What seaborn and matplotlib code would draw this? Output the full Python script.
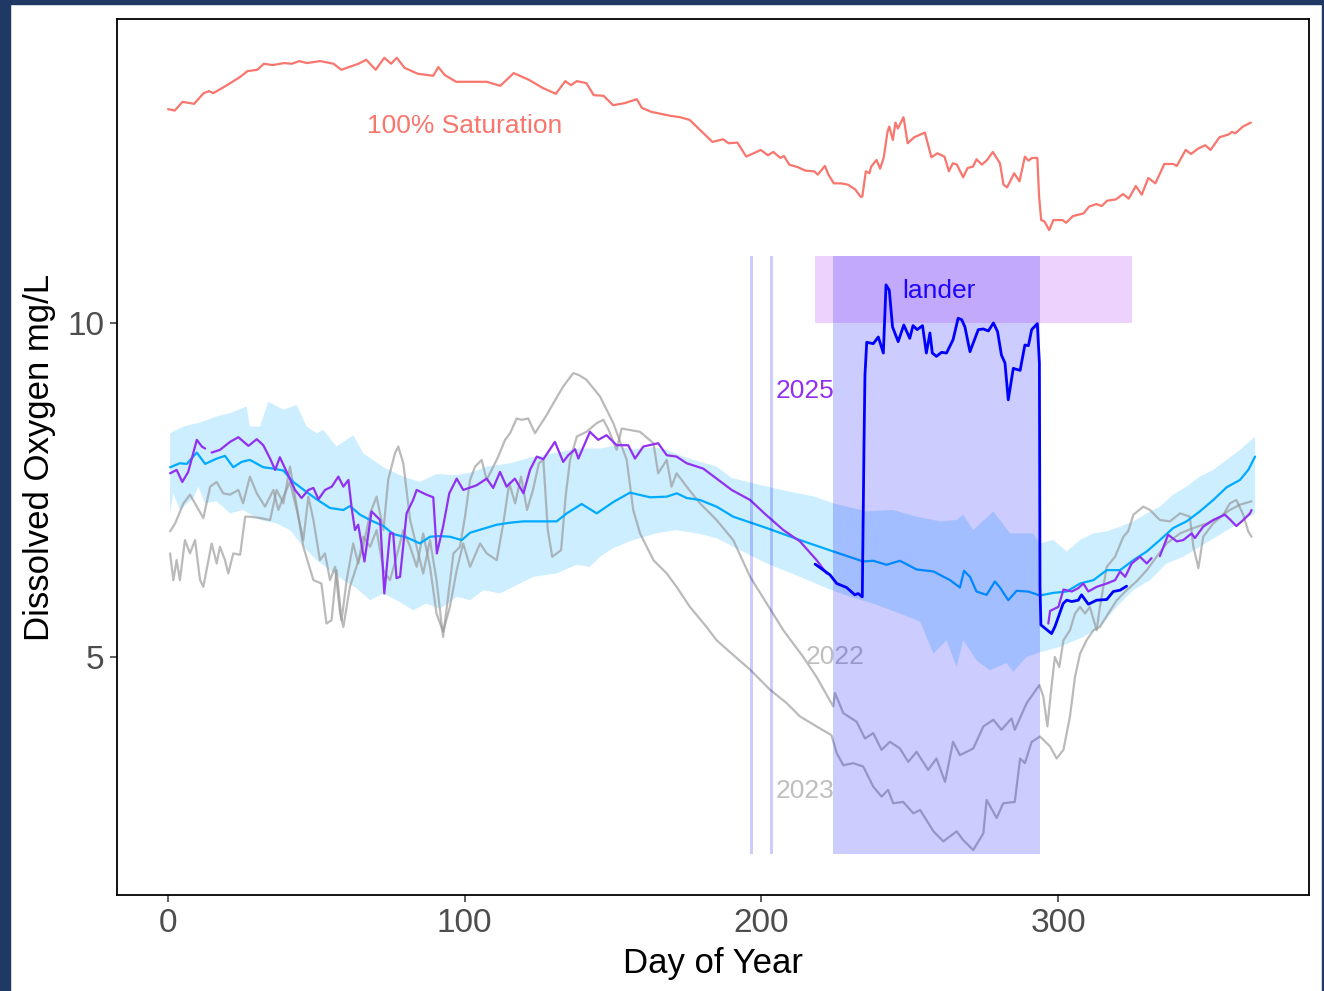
import numpy as np
import pandas as pd
import matplotlib
matplotlib.use("Agg")
import matplotlib.pyplot as plt
import seaborn as sns
from matplotlib.patches import Rectangle

# ---- data ----
# 100% saturation curve
sat_day = [0, 2.3, 4.9, 8.8, 12.0, 13.9, 15.2, 18.4, 21.0, 24.2,
           26.8, 30.1, 32.3, 35.2, 39.1, 41.7, 44.3, 46.8, 51.3, 55.8,
           58.4, 61.0, 64.2, 66.8, 70.0, 72.9, 75.2, 77.1, 79.7, 84.2,
           89.4, 91.1, 93.3, 97.1, 103.6, 107.4, 112, 116.5, 121.6, 126.2,
           130.7, 133.9, 135.8, 137.8, 141, 143.5, 146.8, 150, 153.9, 158,
           159.7, 162.9, 169.4, 172.6, 175.8, 179.3, 183.5, 187.1, 188.9, 191.9,
           194.9, 199.8, 202.2, 204, 206.4, 207.6, 209.4, 212.4, 214.8, 217.8,
           219, 221.4, 222.6, 224.4, 226.8, 229.2, 231.6, 233.4, 234, 235.2,
           236.4, 237, 238.8, 240, 241.2, 242.5, 243.1, 244.3, 245.2, 246,
           247.9, 249.3, 251.5, 255.1, 257.3, 259.3, 261.7, 263.2, 264.5, 265.9,
           268, 269.5, 271.3, 272.5, 274.3, 276.1, 278, 280.4, 281.6, 282.8,
           285.2, 287, 288.8, 290, 291.2, 293, 293.6, 294.3, 295.4, 297,
           298.4, 301.5, 302.7, 305, 308.6, 310.4, 312.9, 314.7, 316.5, 319.5,
           321.9, 323.8, 326.2, 328.2, 330.4, 332.8, 335.8, 338.8, 340, 343,
           344.8, 347.2, 349.6, 351.4, 354.4, 357.4, 358.6, 359.8, 362.3, 365]
sat_do = [13.20, 13.18, 13.31, 13.28, 13.44, 13.47, 13.44, 13.52, 13.59, 13.68,
          13.77, 13.79, 13.88, 13.86, 13.89, 13.88, 13.92, 13.89, 13.92, 13.88,
          13.79, 13.83, 13.88, 13.94, 13.79, 13.97, 13.88, 13.97, 13.82, 13.73,
          13.70, 13.83, 13.71, 13.61, 13.61, 13.61, 13.55, 13.74, 13.64, 13.52,
          13.43, 13.62, 13.56, 13.62, 13.59, 13.41, 13.40, 13.26, 13.29, 13.35,
          13.22, 13.16, 13.10, 13.08, 13.04, 12.89, 12.71, 12.75, 12.69, 12.70,
          12.49, 12.59, 12.51, 12.56, 12.47, 12.50, 12.37, 12.33, 12.28, 12.27,
          12.22, 12.35, 12.22, 12.09, 12.09, 12.07, 12.00, 11.89, 11.89, 12.27,
          12.24, 12.34, 12.44, 12.31, 12.47, 12.86, 12.94, 12.74, 13.00, 12.91,
          13.08, 12.69, 12.78, 12.85, 12.48, 12.54, 12.49, 12.27, 12.39, 12.37,
          12.18, 12.32, 12.34, 12.45, 12.37, 12.44, 12.56, 12.39, 12.07, 12.03,
          12.24, 12.12, 12.49, 12.43, 12.47, 12.47, 11.89, 11.54, 11.52, 11.39,
          11.54, 11.54, 11.50, 11.60, 11.64, 11.74, 11.78, 11.75, 11.83, 11.85,
          11.93, 11.86, 12.05, 11.92, 12.17, 12.09, 12.38, 12.38, 12.35, 12.59,
          12.53, 12.61, 12.66, 12.59, 12.78, 12.82, 12.86, 12.84, 12.94, 13.00]

# climatology mean
clim_day = [0.7, 4, 6.3, 9.7, 12.5, 16.4, 19.2, 22, 24.8, 27.6,
            32.1, 35.5, 38.9, 42.2, 46.7, 50.1, 54.6, 59.1, 61.3, 64.7,
            68.1, 72.6, 75.9, 80.4, 84.9, 88.3, 91.7, 95, 99, 101.8,
            106.3, 110.8, 115.3, 119.8, 125.4, 131, 134.4, 139.4, 144.5, 150.1,
            155.7, 162.5, 168.1, 171.5, 174.8, 179.3, 184.9, 190.5, 201.8, 213,
            224.2, 234.3, 237.7, 242.2, 246.7, 252.3, 258, 263.6, 266.9, 268.3,
            270.3, 272.5, 275.9, 278.7, 280.4, 283.2, 286, 289.9, 293.9, 298.4,
            302.9, 307.4, 311.9, 316.4, 320.9, 325.4, 329.9, 334.3, 338.8, 343.3,
            347.8, 352.3, 356.8, 361.3, 364.1, 366.4]
clim_do = [7.84, 7.90, 7.89, 8.06, 7.89, 7.97, 8.01, 7.84, 7.92, 7.95,
           7.84, 7.82, 7.79, 7.62, 7.47, 7.36, 7.23, 7.20, 7.26, 7.13,
           7.05, 6.96, 6.84, 6.79, 6.70, 6.80, 6.81, 6.80, 6.75, 6.86,
           6.92, 6.98, 7.01, 7.03, 7.03, 7.03, 7.15, 7.29, 7.15, 7.32,
           7.46, 7.39, 7.40, 7.45, 7.38, 7.35, 7.25, 7.10, 6.93, 6.75,
           6.58, 6.43, 6.44, 6.38, 6.44, 6.31, 6.28, 6.15, 6.04, 6.29,
           6.20, 5.98, 5.93, 6.13, 6.04, 5.85, 5.99, 5.98, 5.92, 5.96,
           5.98, 6.10, 6.15, 6.30, 6.30, 6.45, 6.58, 6.75, 6.93, 7.03,
           7.18, 7.35, 7.54, 7.65, 7.80, 8.00]

# climatology band, upper and lower edges
band_hi_day = [0.7, 5.2, 10.8, 16.4, 20.9, 26.5, 27.6, 31, 33.8, 38.9,
               43.4, 46.7, 50.1, 52.3, 56.8, 62.4, 65.8, 72.6, 79.3, 84.9,
               90.6, 97.3, 102.9, 107.4, 115.3, 120.9, 126.5, 132.1, 138.9, 145.6,
               150.1, 156.8, 163.6, 168.1, 173.7, 179.3, 184.9, 190, 200, 210,
               218, 224.2, 235.4, 244.4, 252.3, 260.2, 265.8, 268, 271.4, 278.2,
               283.8, 291.6, 293.9, 298.4, 302.9, 307.4, 311.9, 316.4, 320.9, 325.4,
               329.9, 334.3, 338.8, 343.3, 347.8, 352.3, 356.8, 361.3, 366.4]
band_hi = [8.35, 8.45, 8.51, 8.60, 8.65, 8.75, 8.45, 8.45, 8.82, 8.70,
           8.77, 8.45, 8.35, 8.40, 8.15, 8.32, 8.05, 7.84, 7.70, 7.62,
           7.74, 7.72, 7.77, 7.85, 7.90, 7.97, 8.02, 8.07, 8.12, 8.12,
           8.16, 8.11, 8.14, 8.10, 8.00, 7.92, 7.85, 7.68, 7.57, 7.47,
           7.40, 7.30, 7.18, 7.20, 7.10, 7.03, 7.05, 7.13, 6.90, 7.18,
           6.85, 6.85, 6.70, 6.75, 6.58, 6.75, 6.85, 6.88, 6.95, 7.03,
           7.15, 7.25, 7.43, 7.55, 7.70, 7.80, 7.95, 8.10, 8.30]
band_lo_day = [0.7, 1.8, 4, 8.5, 10.2, 12.5, 16.4, 20.9, 25.3, 31,
               36.6, 41.1, 45.6, 50.1, 54.6, 59.1, 63.5, 68.1, 72.6, 77,
               82.6, 87.1, 91.7, 97.3, 101.8, 106.3, 111.9, 116.4, 123.1, 131,
               137.7, 142.2, 145.6, 150.1, 156.8, 164.6, 171.4, 179.3, 184.9, 190.5,
               201.8, 213, 222, 229.9, 237.7, 246.7, 253.5, 258, 262.4, 265.8,
               268, 272.5, 277, 282.6, 284.9, 289.4, 293.9, 300.6, 308.5, 314.1,
               319.8, 325.4, 331, 336.6, 342.2, 347.8, 353.4, 359, 366.4]
band_lo = [7.15, 7.45, 7.20, 7.38, 7.55, 7.30, 7.33, 7.15, 7.20, 7.05,
           7.00, 6.90, 6.65, 6.45, 6.30, 6.15, 6.03, 5.85, 5.95, 5.85,
           5.70, 5.80, 5.72, 5.90, 5.85, 6.00, 5.95, 6.05, 6.20, 6.25,
           6.38, 6.35, 6.50, 6.63, 6.75, 6.85, 6.90, 6.84, 6.78, 6.65,
           6.40, 6.20, 6.03, 5.90, 5.80, 5.65, 5.53, 5.05, 5.25, 4.85,
           5.25, 4.95, 4.80, 4.91, 4.78, 5.00, 5.07, 5.15, 5.30, 5.45,
           5.75, 6.00, 6.15, 6.40, 6.50, 6.65, 6.80, 6.95, 7.15]

# 2025 (four pieces, gaps in the record)
y2025_day = [[0.7, 2.9, 4.8, 6.8, 9.7, 11.4, 12.5],
             [14.7, 17.5, 20.9, 23.7, 27.1, 29.9, 32.1, 34.4, 36.1, 37.7,
              40, 42.8, 45, 47.3, 49, 50.7, 52.9, 55.2, 57.4, 59.1,
              60.8, 61.9, 63, 64.1, 66.2, 68.6, 71.5, 72.9, 74.8, 75.9,
              77, 78.2, 80.4, 82.6, 83.8, 87.1, 89.4, 90.6, 92.7, 94.8,
              97.3, 99.5, 104, 107.4, 109.6, 111.9, 114.1, 116.9, 119.8, 122,
              124.3, 126.5, 130.4, 133.2, 134.9, 137.2, 138.3, 142.2, 145, 147.8,
              151.2, 155.1, 157.4, 160.2, 165.2, 168.1, 171.4, 174.8, 180.4, 184.9,
              190, 196.2, 201, 207.4, 213, 218.6, 222],
             [296.7, 297.3, 300.1, 301.8, 304.6, 306.8, 308.5, 310.2, 313, 316.4,
              319.2, 320.9, 322.6, 324.8, 327.6, 329.9, 331.5],
             [334.3, 337.1, 340, 342.2, 345, 346.1, 348.9, 352.3, 356.2, 357.9,
              360.1, 362.4, 364.7, 365.2]]
y2025_do = [[7.75, 7.80, 7.62, 7.77, 8.25, 8.15, 8.12],
            [8.06, 8.10, 8.22, 8.29, 8.16, 8.26, 8.17, 7.97, 7.80, 7.99,
             7.77, 7.50, 7.38, 7.50, 7.53, 7.36, 7.50, 7.55, 7.70, 7.55,
             7.65, 7.23, 6.90, 6.98, 6.43, 7.18, 7.05, 5.95, 6.85, 6.85,
             6.18, 6.20, 7.15, 7.35, 7.50, 7.43, 7.39, 6.55, 6.95, 7.45,
             7.67, 7.50, 7.57, 7.67, 7.53, 7.77, 7.55, 7.67, 7.45, 7.80,
             8.00, 7.96, 8.22, 7.92, 8.02, 8.11, 7.97, 8.37, 8.25, 8.32,
             8.17, 8.17, 7.97, 8.15, 8.20, 8.02, 8.00, 7.90, 7.82, 7.67,
             7.50, 7.35, 7.15, 6.90, 6.73, 6.45, 6.25],
            [5.50, 5.69, 5.75, 6.01, 5.98, 6.03, 6.10, 5.98, 6.05, 6.10,
             6.15, 6.28, 6.20, 6.40, 6.50, 6.40, 6.48],
            [6.51, 6.83, 6.73, 6.75, 6.85, 6.78, 6.95, 7.05, 7.13, 7.06,
             6.96, 7.05, 7.15, 7.20]]

# lander deployment
lander_day = [218.1, 220.9, 223.1, 225.4, 228.7, 231.5, 232.6, 234, 234.6, 234.9,
              235.5, 237.7, 239.4, 241.1, 242, 243.1, 244.2, 246.1, 248, 250,
              251.1, 252.5, 254.3, 255.6, 256.8, 257.6, 259, 260.7, 262.4, 264.6,
              266.3, 267.5, 268.6, 270.3, 273.1, 274.8, 276.5, 278.2, 279.6, 280.9,
              282.1, 283.2, 284.9, 287.2, 288.8, 290, 291.1, 293, 293.7, 293.9,
              294.2, 297.8, 298.9, 301.7, 302.9, 304.6, 306.8, 307.9, 310.2, 313,
              316.4, 318.6, 320.9, 323.1]
lander_do = [6.39, 6.30, 6.23, 6.10, 6.04, 5.93, 5.95, 5.90, 8.25, 9.22,
             9.71, 9.69, 9.79, 9.55, 10.57, 10.49, 9.94, 9.72, 9.97, 9.77,
             9.96, 9.90, 9.96, 9.55, 9.85, 9.55, 9.50, 9.56, 9.55, 9.75,
             10.07, 10.05, 9.94, 9.57, 9.90, 9.91, 9.88, 10.00, 9.87, 9.52,
             9.40, 8.85, 9.32, 9.29, 9.67, 9.66, 9.90, 9.99, 9.40, 6.05,
             5.48, 5.35, 5.45, 5.80, 5.85, 5.83, 5.85, 5.93, 5.79, 5.85,
             5.86, 5.98, 6.00, 6.06]

# earlier years (grey)
y2022_day = [0.7, 1.8, 2.9, 4, 5.7, 7.4, 9.1, 10.8, 11.9, 14.7,
             16.4, 17.5, 19.2, 20.3, 22, 24.3, 26, 27.6, 31, 34.4,
             36.6, 38.9, 41.1, 43.4, 45.6, 49, 51.7, 53.4, 55.1, 56.8,
             58.5, 60.2, 62.4, 64.1, 65.8, 68.1, 70.3, 72.6, 74.8, 77,
             79.3, 81.6, 83.8, 86, 88.3, 90.5, 92.7, 95, 97.3, 99.5,
             101.8, 105.2, 107.4, 110.8, 113, 115, 117, 119, 121, 123,
             125, 126.5, 128, 129.5, 131, 132.5, 134, 135.5, 137.8, 141,
             144.5, 146.7, 148.5, 151.2, 152.9, 159.1, 163.6, 165.2, 168.1, 169.7,
             171.4, 174.8, 179.3, 184.9, 190.5, 196.2, 201.8, 207.4, 214.1, 218.6,
             224.2, 224.8, 227.6, 232.1, 234.9, 237.7, 240.5, 243.3, 246.7, 249.5,
             252.3, 256.2, 259, 261.9, 264.6, 266.9, 271.4, 274.8, 278.2, 280.9,
             284.3, 285.4, 289.4, 293.7, 295, 296.4, 297.3, 298.9, 300.4, 301.8,
             304, 305.7, 307.4, 309.1, 310.7, 313, 314.1, 316.4, 319.2, 322,
             323.6, 325.4, 328.7, 331, 334.3, 337.7, 341.1, 344.4, 345.6, 347.3,
             348.9, 352.3, 355.7, 357.9, 360.1, 362.4, 364.1, 365.2]
y2022_do = [6.55, 6.15, 6.45, 6.15, 6.75, 6.55, 6.75, 6.15, 6.05, 6.70,
            6.40, 6.65, 6.45, 6.25, 6.55, 6.53, 7.10, 7.10, 7.08, 7.05,
            7.50, 7.30, 7.85, 7.25, 6.65, 6.15, 6.10, 5.50, 5.55, 6.30,
            5.55, 6.15, 6.70, 6.40, 6.80, 6.65, 6.90, 6.30, 6.15, 6.50,
            6.90, 6.65, 6.35, 6.85, 6.35, 5.65, 5.38, 5.75, 6.30, 6.70,
            6.35, 6.70, 6.55, 6.45, 7.00, 7.60, 7.30, 7.70, 7.20, 7.50,
            7.90, 7.95, 6.90, 6.50, 6.55, 6.60, 7.40, 7.95, 8.30, 8.37,
            8.50, 8.55, 8.40, 8.10, 8.42, 8.37, 8.20, 7.75, 7.95, 7.55,
            7.75, 7.55, 7.30, 7.05, 6.75, 6.20, 5.80, 5.40, 5.00, 4.70,
            4.26, 4.46, 4.16, 4.03, 3.78, 3.86, 3.61, 3.73, 3.63, 3.43,
            3.58, 3.31, 3.48, 3.13, 3.73, 3.53, 3.63, 3.96, 4.06, 3.91,
            4.08, 3.91, 4.31, 4.58, 4.41, 3.96, 4.36, 5.00, 4.85, 5.25,
            5.40, 5.65, 5.75, 5.65, 5.75, 5.40, 5.75, 6.35, 6.50, 6.80,
            6.88, 7.13, 7.25, 7.20, 7.05, 7.03, 7.15, 7.10, 6.65, 6.33,
            6.80, 7.00, 7.13, 7.30, 7.35, 7.13, 6.88, 6.80]

y2023_day = [0.7, 2.4, 5.2, 7.4, 9.7, 11.9, 14.2, 16.4, 18.6, 20.9,
             23.7, 25.3, 27.6, 29.9, 32.7, 35.5, 37.2, 38.9, 41.1, 43.4,
             45.6, 47.3, 49, 51.2, 52.9, 54.6, 56.3, 58, 59.1, 61.3,
             63.5, 65.8, 68.1, 70.3, 72.6, 74.2, 76.5, 77.6, 79.3, 81.6,
             83.8, 86, 88.3, 90.5, 92.7, 94.4, 96.2, 98.4, 100.1, 101.8,
             103.5, 105.7, 107.4, 109.1, 111.3, 113.6, 115.3, 117.5, 119.2, 121.4,
             123.7, 125.4, 127.6, 129.9, 133.2, 136.6, 138.5, 141, 145.6, 150.1,
             154.6, 156.8, 159.1, 163.6, 168.1, 171.4, 175.9, 181.5, 184.9, 190.5,
             196.2, 202.9, 208.5, 213, 218.6, 223.6, 225.4, 227.6, 231, 234.3,
             237.7, 240.5, 242.7, 244.4, 247.8, 251.2, 253.5, 258, 261.3, 265.8,
             268, 271.4, 274.8, 275.9, 279.3, 281.5, 285.4, 287.2, 288.8, 291.1,
             293.9, 297.3, 299.5, 301.8, 304, 305.7, 307.4, 309.6, 311.9, 314.1,
             316.9, 319.8, 323.1, 326.4, 329.9, 333.2, 336.6, 341.1, 345.6, 350.1,
             354.6, 357.9, 361.3, 365.2]
y2023_do = [6.88, 7.00, 7.30, 7.43, 7.25, 7.08, 7.55, 7.62, 7.45, 7.43,
            7.50, 7.30, 7.70, 7.45, 7.25, 7.50, 7.20, 7.40, 7.62, 7.20,
            6.75, 7.40, 7.05, 6.45, 6.55, 6.15, 6.35, 5.65, 5.45, 6.05,
            6.35, 6.65, 7.15, 7.40, 6.90, 7.65, 8.05, 8.15, 7.90, 7.05,
            6.65, 6.25, 6.75, 6.15, 5.30, 5.90, 6.55, 6.65, 7.10, 7.65,
            7.85, 7.95, 7.65, 7.80, 8.00, 8.25, 8.35, 8.57, 8.55, 8.57,
            8.35, 8.47, 8.62, 8.80, 9.05, 9.25, 9.22, 9.15, 8.90, 8.50,
            7.95, 7.20, 6.85, 6.45, 6.25, 6.05, 5.75, 5.45, 5.25, 5.03,
            4.81, 4.51, 4.31, 4.11, 3.96, 3.83, 3.56, 3.38, 3.41, 3.36,
            3.06, 2.91, 3.01, 2.81, 2.83, 2.66, 2.71, 2.39, 2.24, 2.39,
            2.26, 2.11, 2.36, 2.86, 2.59, 2.81, 2.83, 3.48, 3.41, 3.73,
            3.81, 3.66, 3.48, 3.61, 4.11, 4.70, 5.05, 5.25, 5.40, 5.45,
            5.65, 5.85, 6.00, 6.13, 6.30, 6.50, 6.70, 6.85, 6.93, 7.00,
            7.10, 7.20, 7.28, 7.33]

# shaded windows (day start, day end, DO low, DO high)
lander_window = (224, 294, 2.05, 11)
lander_tag = (218, 325, 10, 11)
thin_windows = [(196, 197), (203, 204)]

# ---- build frames ----
grey = pd.concat([pd.DataFrame({"day": y2022_day, "do": y2022_do, "year": "2022"}),
                  pd.DataFrame({"day": y2023_day, "do": y2023_do, "year": "2023"})])
y2025 = pd.concat([pd.DataFrame({"day": d, "do": v, "seg": i})
                   for i, (d, v) in enumerate(zip(y2025_day, y2025_do))])

sns.set_theme(style="white")
plt.rcParams["font.family"] = ["Liberation Sans", "DejaVu Sans"]

fig = plt.figure(figsize=(13.24, 9.91), dpi=100)
ax = fig.add_axes([117 / 1324, 96 / 991, (1308.5 - 117) / 1324, (895 - 19) / 991])

# navy frame of the screenshot
navy = "#1f3864"
for rect in ([0, 0, 10 / 1324, 1], [0, 1 - 4 / 991, 1, 4 / 991], [1322 / 1324, 0, 2 / 1324, 1]):
    fig.patches.append(Rectangle(rect[:2], rect[2], rect[3], transform=fig.transFigure,
                                 color=navy, zorder=10))

# climatology band
ax.fill(np.concatenate([band_hi_day, band_lo_day[::-1]]),
        np.concatenate([band_hi, band_lo[::-1]]),
        color="#00AAFF", alpha=0.2, lw=0, zorder=1)

sns.lineplot(data=grey, x="day", y="do", units="year", estimator=None, sort=False,
             color="#969696", alpha=0.65, lw=1.6, ax=ax, zorder=2)
sns.lineplot(x=clim_day, y=clim_do, color="#00AAFF", lw=1.6, ax=ax, zorder=3)
sns.lineplot(data=y2025, x="day", y="do", units="seg", estimator=None, sort=False,
             color="#9130F0", lw=1.6, ax=ax, zorder=4)
sns.lineplot(x=sat_day, y=sat_do, color="#F8766D", lw=1.6, ax=ax, zorder=4)

# labels inside the panel
lab = dict(fontsize=19, ha="center", va="center", zorder=5)
ax.text(100, 12.95, "100% Saturation", color="#F8766D", **lab)
ax.text(214.7, 8.98, "2025", color="#9130F0", **lab)
ax.text(224.8, 5.0, "2022", color="#BEBEBE", **lab)
ax.text(214.7, 3.0, "2023", color="#BEBEBE", **lab)
ax.text(260, 10.48, "lander", color="blue", **lab)

# shaded windows
x0, x1, y0, y1 = lander_window
ax.add_patch(Rectangle((x0, y0), x1 - x0, y1 - y0, color="blue", alpha=0.2, lw=0, zorder=6))
for a, b in thin_windows:
    ax.add_patch(Rectangle((a, y0), b - a, y1 - y0, color="blue", alpha=0.2, lw=0, zorder=6))
x0, x1, y0, y1 = lander_tag
ax.add_patch(Rectangle((x0, y0), x1 - x0, y1 - y0, color="#A020F0", alpha=0.2, lw=0, zorder=6))

sns.lineplot(x=lander_day, y=lander_do, color="blue", lw=2.0, ax=ax, zorder=7, sort=False)

ax.set_xlim(-17.2, 384.4)
ax.set_ylim(1.437, 14.55)
ax.set_xticks([0, 100, 200, 300])
ax.set_yticks([5, 10])
ax.set_xlabel("Day of Year", fontsize=25, color="black", labelpad=6)
ax.set_ylabel("Dissolved Oxygen mg/L", fontsize=25, color="black", labelpad=8)
ax.tick_params(axis="both", labelsize=24, labelcolor="#4D4D4D", color="#333333",
               length=5, width=1.1, pad=4, direction="out", bottom=True, left=True)
for s in ax.spines.values():
    s.set_color("black")
    s.set_linewidth(1.3)
ax.grid(False)

fig.savefig("out.png", dpi=100)
